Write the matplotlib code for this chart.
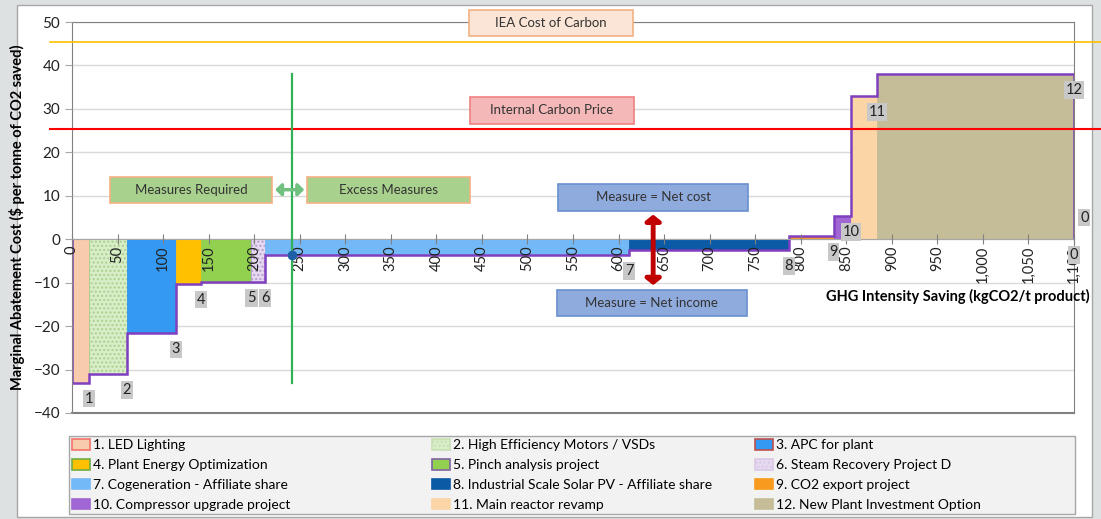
import matplotlib.pyplot as plt
import matplotlib.patches as mpatches

plt.rcParams['font.family'] = ['Lato', 'DejaVu Sans']

# measure data: x edges (kgCO2/t) and marginal abatement cost ($/t CO2)
edges = [0, 19, 60, 114, 142, 197, 212, 612, 787, 836, 855, 884, 1100]
costs = [-33, -31, -21.7, -10.2, -9.8, -9.8, -3.6, -2.5, 0.7, 5.3, 33, 38]
names = ['1. LED Lighting', '2. High Efficiency Motors / VSDs', '3. APC for plant',
         '4. Plant Energy Optimization', '5. Pinch analysis project', '6. Steam Recovery Project D',
         '7. Cogeneration - Affiliate share', '8. Industrial Scale Solar PV - Affiliate share',
         '9. CO2 export project', '10. Compressor upgrade project', '11. Main reactor revamp',
         '12. New Plant Investment Option']
point_labels = ['1', '2', '3', '4', '5', '6', '7', '8', '9', '10', '11', '12']
colors = ['#F8CBAD', '#D8EDC8', '#3399F3', '#FFC000', '#92D050', '#E6D9F0',
          '#74B9F7', '#0B5AA6', '#F79A1E', '#A066D3', '#FBD5A5', '#C4BD97']
edgecols = ['#F4756B', '#A9D18E', '#3399F3', '#FFC000', '#92D050', '#B49CCF',
            '#74B9F7', '#0B5AA6', '#F79A1E', '#A066D3', '#FBD5A5', '#C4BD97']
hatches = [None, '....', None, None, None, '....', None, None, None, None, None, None]
legend_edges = ['#F4756B', '#C6E0B4', '#C0504D', '#70AD47', '#8064A2', '#D9C9E8',
                '#74B9F7', '#0B5AA6', '#F79A1E', '#A066D3', '#FBD5A5', '#C4BD97']

iea_cost = 45.5
internal_price = 25.3
target_saving = 241

W, H = 1101, 519
fig = plt.figure(figsize=(W / 100, H / 100), dpi=100)
fig.patch.set_facecolor('#DEE1E2')
fig.patches.append(mpatches.Rectangle((17 / W, 2 / H), (1092 - 17) / W, (517 - 5) / H,
                                      transform=fig.transFigure, facecolor='white',
                                      edgecolor='#A6A6A6', lw=1, zorder=-10))

ax = fig.add_axes([72 / W, 1 - 413 / H, (1074 - 72) / W, (413 - 22) / H])
ax.set_xlim(0, 1100)
ax.set_ylim(-40, 50)
ax.set_facecolor('white')

widths = [edges[i + 1] - edges[i] for i in range(len(costs))]
bars = ax.bar(edges[:-1], costs, width=widths, align='edge', color=colors,
              edgecolor=edgecols, linewidth=0.6, zorder=1)
for b, h in zip(bars, hatches):
    if h:
        b.set_hatch(h)
ax.stairs(costs, edges, baseline=0, color='#7F3FBF', lw=1.8, zorder=1.5)

# grid and axes (gridlines behind bars, tick labels above them)
yticks = list(range(-40, 51, 10))
ax.set_yticks(yticks)
for yv in yticks:
    ax.axhline(yv, color='#D9D9D9', lw=1, zorder=0.1)
ax.set_axisbelow(False)
ax.spines['bottom'].set_position(('data', 0))
ax.spines['bottom'].set_color('#A6A6A6')
for s in ['top', 'left', 'right']:
    ax.spines[s].set_color('#808080')
ax.axhline(-40, color='#808080', lw=1.5, clip_on=False, zorder=1)
ax.set_xticks(range(0, 1101, 50))
ax.set_xticklabels(['{:,}'.format(v) for v in range(0, 1101, 50)], rotation=90)
ax.tick_params(axis='x', direction='inout', length=7, color='#808080', labelsize=10.5,
               pad=1, labelcolor='#222222')
ax.tick_params(axis='y', length=5, color='#A6A6A6', labelsize=11, labelcolor='#222222')
ax.set_ylabel('Marginal Abatement Cost ($ per tonne of CO2 saved)', fontweight='bold',
              fontsize=10.5, labelpad=6)
ax.text(1.016, 0.297, 'GHG Intensity Saving (kgCO2/t product)', transform=ax.transAxes,
        ha='right', va='center', fontweight='bold', fontsize=10.5)

# carbon price lines
ax.axhline(iea_cost, xmin=-0.022, xmax=1.03, color='#FFC000', lw=1.2, clip_on=False, zorder=4)
ax.axhline(internal_price, xmin=-0.022, xmax=1.03, color='#FF0000', lw=1.5, clip_on=False, zorder=4)

# target line
ax.plot([target_saving, target_saving], [38, -33], color='#33B05A', lw=1.6, zorder=5)
ax.plot(target_saving, costs[6], 'o', color='#1F5FA8', ms=6, zorder=6)


def box(cx, cy, w, h, text, fc, ec):
    ax.add_patch(mpatches.Rectangle((cx - w / 2, cy - h / 2), w, h, facecolor=fc,
                                    edgecolor=ec, lw=1.2, clip_on=False, zorder=7))
    ax.text(cx, cy, text, ha='center', va='center', fontsize=9.5, color='#333333', zorder=8)


box(526, 49.8, 180, 6, 'IEA Cost of Carbon', '#FBE5D6', '#F4B183')
box(527, 29.7, 180, 6.2, 'Internal Carbon Price', '#F4B8B8', '#F08080')
box(131, 11.4, 178, 6, 'Measures Required', '#A9D18E', '#F4B183')
box(347.5, 11.4, 179, 6, 'Excess Measures', '#A9D18E', '#F4B183')
box(638, 9.7, 208, 6.2, 'Measure = Net cost', '#8FAADC', '#6A8FD0')
box(636.5, -14.6, 209, 6, 'Measure = Net income', '#8FAADC', '#6A8FD0')

ax.add_patch(mpatches.FancyArrowPatch((220, 11.4), (258, 11.4),
                                      arrowstyle='<|-|>,head_width=0.35,head_length=0.35',
                                      color='#A9D18E', ec='#70C080', lw=2.5, mutation_scale=10,
                                      zorder=8))
ax.add_patch(mpatches.FancyArrowPatch((638, 6.3), (638, -11.2),
                                      arrowstyle='<|-|>,head_width=0.45,head_length=0.35',
                                      color='#C00000', lw=3.5, mutation_scale=10, zorder=8))

# data labels
for xe, c, lab in zip(edges[1:], costs, point_labels):
    ax.annotate(lab, (xe, c), xytext=(0, -11.5), textcoords='offset points', ha='center',
                va='center', fontsize=10.5, color='#222222', zorder=9,
                bbox=dict(boxstyle='square,pad=0.12', fc='#C8C8C8', ec='none'))
ax.annotate('0', (edges[-1], 0), xytext=(0, -11.5), textcoords='offset points', ha='center',
            va='center', fontsize=10.5, color='#222222', zorder=9,
            bbox=dict(boxstyle='square,pad=0.12', fc='#C8C8C8', ec='none'))
ax.annotate('0', (edges[-1], 0), xytext=(7.5, 15.5), textcoords='offset points', ha='center',
            va='center', fontsize=10.5, color='#222222', zorder=9, annotation_clip=False,
            bbox=dict(boxstyle='square,pad=0.12', fc='#C8C8C8', ec='none'))

# legend
fig.patches.append(mpatches.Rectangle((69 / W, 1 - 514 / H), (1075 - 69) / W, (514 - 436) / H,
                                      transform=fig.transFigure, facecolor='#F2F2F2',
                                      edgecolor='#A6A6A6', lw=1, zorder=-5))
handles = []
for i in range(12):
    p = mpatches.Patch(facecolor=colors[i], edgecolor=legend_edges[i], lw=1.2,
                       hatch=hatches[i], label=names[i])
    handles.append(p)
col_x = [72, 432, 755]
for k in range(3):
    hs = [handles[k + 3 * r] for r in range(4)]
    fig.legend(handles=hs, loc='upper left', bbox_to_anchor=(col_x[k] / W, 1 - 439 / H),
               frameon=False, fontsize=10, handlelength=1.3, handleheight=0.8,
               handletextpad=0.2, labelspacing=0.56, borderpad=0, borderaxespad=0)

fig.savefig('out.png', dpi=100, facecolor=fig.get_facecolor())
